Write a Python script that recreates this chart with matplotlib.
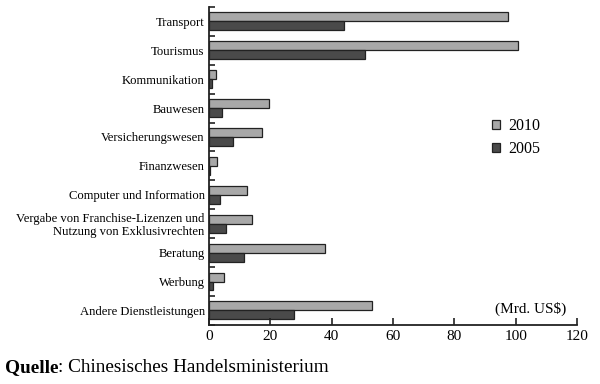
import matplotlib
matplotlib.use("Agg")
import matplotlib.pyplot as plt
import numpy as np

categories = ["Transport", "Tourismus", "Kommunikation", "Bauwesen",
              "Versicherungswesen", "Finanzwesen", "Computer und Information",
              "Vergabe von Franchise-Lizenzen und\nNutzung von Exklusivrechten",
              "Beratung", "Werbung", "Andere Dienstleistungen"]
values_2010 = [97.5, 100.7, 2.3, 19.6, 17.3, 2.6, 12.4, 14.0, 37.8, 4.9, 53.1]
values_2005 = [44.0, 50.9, 1.0, 4.2, 7.8, 0.3, 3.6, 5.5, 11.4, 1.5, 27.7]
xticks = [0, 20, 40, 60, 80, 100, 120]

plt.rcParams['font.family'] = ['Liberation Serif', 'DejaVu Serif']

fig = plt.figure(figsize=(6, 3.84), dpi=100)
ax = fig.add_axes([0.348, 0.154, 0.614, 0.828])

n = len(categories)
y = np.arange(n)
h = 0.31
ax.barh(y - h/2, values_2010, height=h, color="#a8a8a8", edgecolor="#222222", linewidth=0.9, label="2010")
ax.barh(y + h/2, values_2005, height=h, color="#4a4a4a", edgecolor="#222222", linewidth=0.9, label="2005")

ax.set_ylim(n - 0.5, -0.5)
ax.set_xlim(0, 120)
ax.set_yticks(y)
ax.set_yticklabels(categories, fontsize=9.1, linespacing=1.05)
ax.set_yticks(np.arange(n + 1) - 0.5, minor=True)
ax.tick_params(axis='y', which='major', length=0, pad=3)
ax.tick_params(axis='y', which='minor', length=4, direction='in', width=1.2, color="#222222")
ax.set_xticks(xticks)
ax.set_xticklabels([str(t) for t in xticks], fontsize=11)
ax.tick_params(axis='x', direction='in', length=5, width=1.2, pad=3.5, color="#222222")

for s in ['top', 'right']:
    ax.spines[s].set_visible(False)
for s in ['left', 'bottom']:
    ax.spines[s].set_linewidth(1.3)
    ax.spines[s].set_color("#222222")

leg = ax.legend(loc='upper left', bbox_to_anchor=(0.752, 0.67), frameon=False,
                fontsize=11.5, handlelength=0.5, handleheight=0.5, handletextpad=0.5,
                labelspacing=0.45, borderaxespad=0)

ax.text(0.97, 0.05, "(Mrd. US$)", transform=ax.transAxes, ha='right', va='center', fontsize=11)

t1 = fig.text(0.008, 0.042, "Quelle", fontsize=13.9, va='center', ha='left', fontweight='bold')
fig.canvas.draw()
bb = t1.get_window_extent()
x1 = bb.x1 / fig.bbox.width
fig.text(x1, 0.042, ": Chinesisches Handelsministerium", fontsize=13.9, va='center', ha='left')

fig.savefig("out.png", dpi=100)
